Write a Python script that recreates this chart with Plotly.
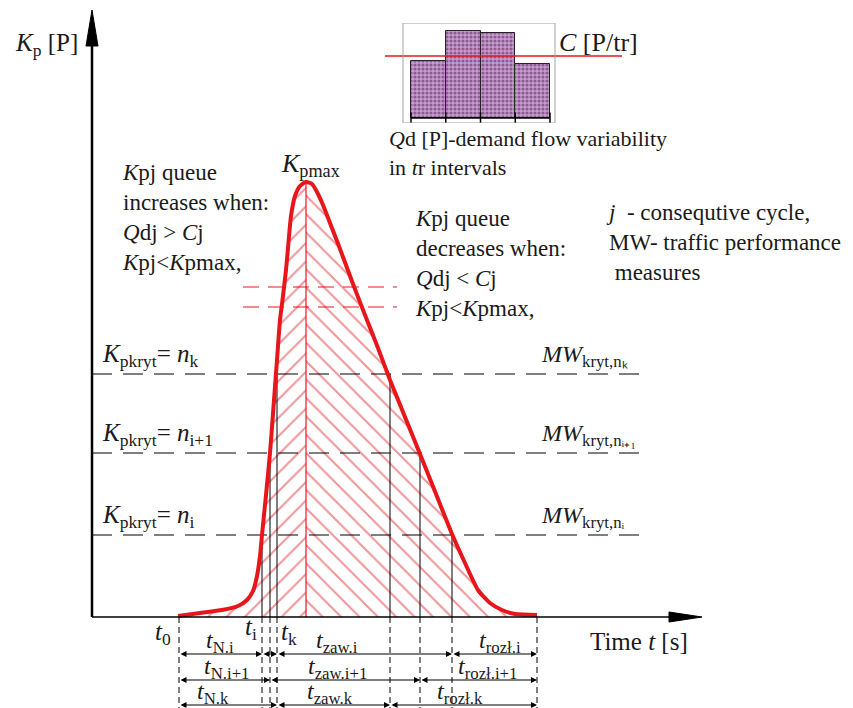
import plotly.graph_objects as go

SERIF = "Liberation Serif"
RED = "#e8161b"
HATCH = "#dc2a30"

# queue length K_p(t); t counted from the K_p axis, K_p from the time axis
t_curve = [86, 108, 130, 146, 155, 161, 165, 168, 170, 174, 178, 182, 185, 188, 191, 194, 196,
           199, 203, 208, 214, 220, 225, 231, 238, 245, 251, 261, 273, 286, 298, 313, 328, 344,
           360, 373, 386, 398, 410, 423, 445]
k_curve = [1, 4, 7, 11, 17, 26, 41, 61, 82, 122, 164, 217, 257, 297, 321, 347, 369,
           401, 421, 431, 435, 433, 425, 412, 394, 376, 360, 333, 302, 269, 237, 200, 163, 123,
           83, 54, 27, 14, 7, 3, 2]
t_peak = 214
k_peak = 435

# critical queue levels n_k, n_i+1, n_i
level_names = ["k", "i+1", "i"]
level_mw = ["kryt,nₖ", "kryt,nᵢ₊₁", "kryt,nᵢ"]
k_kryt = [243, 164, 82]
t_up = [185, 178, 170]
t_down = [298, 328, 360]
t0 = 87
t_end = 445

# capacity band (red dashed lines)
k_band = [330, 310]

# time dimension rows (boundaries and labels)
row_y = [-37, -63, -88]
row_bounds = [[87, 170, 185, 360, 445], [87, 178, 328, 445], [87, 185, 298, 445]]
row_labels = [["N.i", "zaw.i", "rozł.i"], ["N.i+1", "zaw.i+1", "rozł.i+1"], ["N.k", "zaw.k", "rozł.k"]]
row_label_t = [[128, 245, 408], [135, 245, 395], [121, 238, 368]]

# demand flow inset
qd_interval = [1, 2, 3, 4]
qd = [57, 87, 85, 54]
c_cap = 62

# axes extents
x_axis_end = 610
y_axis_end = 607

fig = go.Figure()

# hatched area under the curve, "/" before the peak and "\" after it
left_t = [t for t in t_curve if t <= t_peak]
left_k = [k for t, k in zip(t_curve, k_curve) if t <= t_peak]
right_t = [t for t in t_curve if t >= t_peak]
right_k = [k for t, k in zip(t_curve, k_curve) if t >= t_peak]
for xs, ys, shape in [(left_t, left_k, "/"), (right_t, right_k, "\\")]:
    fig.add_trace(go.Scatter(
        x=xs, y=ys, mode="none", fill="tozeroy", fillcolor="rgba(0,0,0,0)",
        fillpattern=dict(shape=shape, fgcolor=HATCH, bgcolor="white", size=13, solidity=0.15),
        hoverinfo="skip"))

# red line under the peak
fig.add_trace(go.Scatter(x=[t_peak, t_peak], y=[0, k_peak], mode="lines",
                         line=dict(color=RED, width=1.2)))

# vertical lines where the curve crosses the critical levels
for k, tu, td in zip(k_kryt, t_up, t_down):
    for t in (tu, td):
        fig.add_trace(go.Scatter(x=[t, t], y=[0, k], mode="lines",
                                 line=dict(color="black", width=1)))

# dashed verticals below the time axis
for t in sorted(set([t0, t_end] + t_up + t_down)):
    fig.add_trace(go.Scatter(x=[t, t], y=[0, row_y[-1] - 4], mode="lines",
                             line=dict(color="black", width=1, dash="6px,4px")))

# critical level dashed lines
for k in k_kryt:
    fig.add_trace(go.Scatter(x=[0, 553], y=[k, k], mode="lines",
                             line=dict(color="black", width=1.2, dash="20px,11px")))

# capacity band
for k in k_band:
    fig.add_trace(go.Scatter(x=[151, 305], y=[k, k], mode="lines",
                             line=dict(color=RED, width=1.2, dash="16px,9px")))

# queue curve
fig.add_trace(go.Scatter(x=t_curve, y=k_curve, mode="lines",
                         line=dict(color=RED, width=4, shape="spline", smoothing=0.6)))

# axes
fig.add_trace(go.Scatter(x=[0, 0], y=[0, y_axis_end - 20], mode="lines",
                         line=dict(color="black", width=2.5)))
fig.add_trace(go.Scatter(x=[0, x_axis_end - 20], y=[0, 0], mode="lines",
                         line=dict(color="black", width=1.5)))

shapes = [
    dict(type="path", xref="x", yref="y",
         path=f"M -6 {y_axis_end - 36} L 0 {y_axis_end} L 6 {y_axis_end - 36} Z",
         fillcolor="black", line=dict(color="black", width=1)),
    dict(type="path", xref="x", yref="y",
         path=f"M {x_axis_end - 33} -5 L {x_axis_end} 0 L {x_axis_end - 33} 5 Z",
         fillcolor="black", line=dict(color="black", width=1)),
    # inset frame
    dict(type="rect", xref="x2", yref="y2", x0=0.27, x1=4.644, y0=-5, y1=95,
         line=dict(color="#a0a0a0", width=1)),
]

annotations = []


def label(t, k, text, size=20, xanchor="center", yanchor="middle", align="left", pad=1):
    annotations.append(dict(x=t, y=k, xref="x", yref="y", text=text, showarrow=False,
                            xanchor=xanchor, yanchor=yanchor, align=align, borderpad=pad,
                            font=dict(family=SERIF, size=size, color="#1a1a1a")))


# dimension arrows and labels
for y, bounds, labs, lab_t in zip(row_y, row_bounds, row_labels, row_label_t):
    for a, b in zip(bounds[:-1], bounds[1:]):
        annotations.append(dict(x=b, y=y, ax=a, ay=y, xref="x", yref="y", axref="x", ayref="y",
                                text="", showarrow=True, arrowhead=2, arrowside="end+start",
                                arrowsize=1, arrowwidth=1.2, arrowcolor="black",
                                standoff=0, startstandoff=0))
    for lab, lt in zip(labs, lab_t):
        label(lt, y + 12, f"<i>t</i><sub>{lab}</sub>", size=24, pad=0)

label(t0 - 16, -16, "<i>t</i><sub>0</sub>", size=25)
label(159, -11, "<i>t</i><sub>i</sub>", size=25)
label(197, -16, "<i>t</i><sub>k</sub>", size=25)
label(547, -24, "Time <i>t</i> [s]", size=25)
label(-12, 573, "<i>K</i><sub>p</sub> [P]", size=25, xanchor="right")
label(t_peak + 4, 452, "<i>K</i><sub>pmax</sub>", size=26)

# critical levels text
for k, name, mw in zip(k_kryt, level_names, level_mw):
    label(8, k + 1, f"<i>K</i><sub>pkryt</sub>= <i>n</i><sub>{name}</sub>", size=25,
          xanchor="left", yanchor="bottom")
    label(447, k + 1, f"<i>MW</i><sub>{mw}</sub>", size=24, xanchor="left", yanchor="bottom")

label(28, 400, "<i>K</i>pj queue<br>increases when:<br><i>Q</i>dj &gt; <i>C</i>j<br>"
      "<i>K</i>pj&lt;<i>K</i>pmax,", size=23, xanchor="left")
label(321, 354, "<i>K</i>pj queue<br>decreases when:<br><i>Q</i>dj &lt; <i>C</i>j<br>"
      "<i>K</i>pj&lt;<i>K</i>pmax,", size=23, xanchor="left")
label(512, 375, "<i>j</i>  - consequtive cycle,<br>MW- traffic performance<br>\u00a0measures",
      size=23, xanchor="left")

label(465, 575, "<i>C</i> [P/tr]", size=26, xanchor="left")
label(295, 464, "<i>Q</i>d [P]-demand flow variability<br>in <i>t</i>r intervals", size=22,
      xanchor="left")

# demand flow inset
fig.add_trace(go.Bar(
    x=qd_interval, y=qd, width=1, xaxis="x2", yaxis="y2",
    marker=dict(color="#c99bd0",
                pattern=dict(shape=".", fgcolor="#4a2050", bgcolor="#c99bd0", size=4, solidity=0.5),
                line=dict(color="#222", width=1))))
fig.add_trace(go.Scatter(x=[0.5, 1.5, 2.5, 3.5, 4.5], y=[0] * 5, xaxis="x2", yaxis="y2",
                         mode="lines+markers", line=dict(color="black", width=1.5),
                         marker=dict(symbol="line-ns", size=8,
                                     line=dict(color="black", width=1.5))))
fig.add_trace(go.Scatter(x=[-0.248, 6.572], y=[c_cap, c_cap], xaxis="x2", yaxis="y2",
                         mode="lines", line=dict(color=RED, width=1.5)))

# the page adds an 8 px body margin, so the figure is 8 px smaller than the window
fig.update_layout(
    width=845, height=700,
    margin=dict(l=0, r=0, t=0, b=0),
    paper_bgcolor="white", plot_bgcolor="rgba(0,0,0,0)",
    showlegend=False,
    bargap=0,
    xaxis=dict(range=[-84, 761], visible=False, domain=[0, 1]),
    yaxis=dict(range=[-91, 609], visible=False, domain=[0, 1]),
    xaxis2=dict(range=[-0.248, 6.572], visible=False, domain=[377 / 845, 614 / 845], anchor="y2"),
    yaxis2=dict(range=[-5, 95], visible=False, domain=[585 / 700, 685 / 700], anchor="x2"),
    shapes=shapes,
    annotations=annotations,
)

fig.write_html("out.html")
